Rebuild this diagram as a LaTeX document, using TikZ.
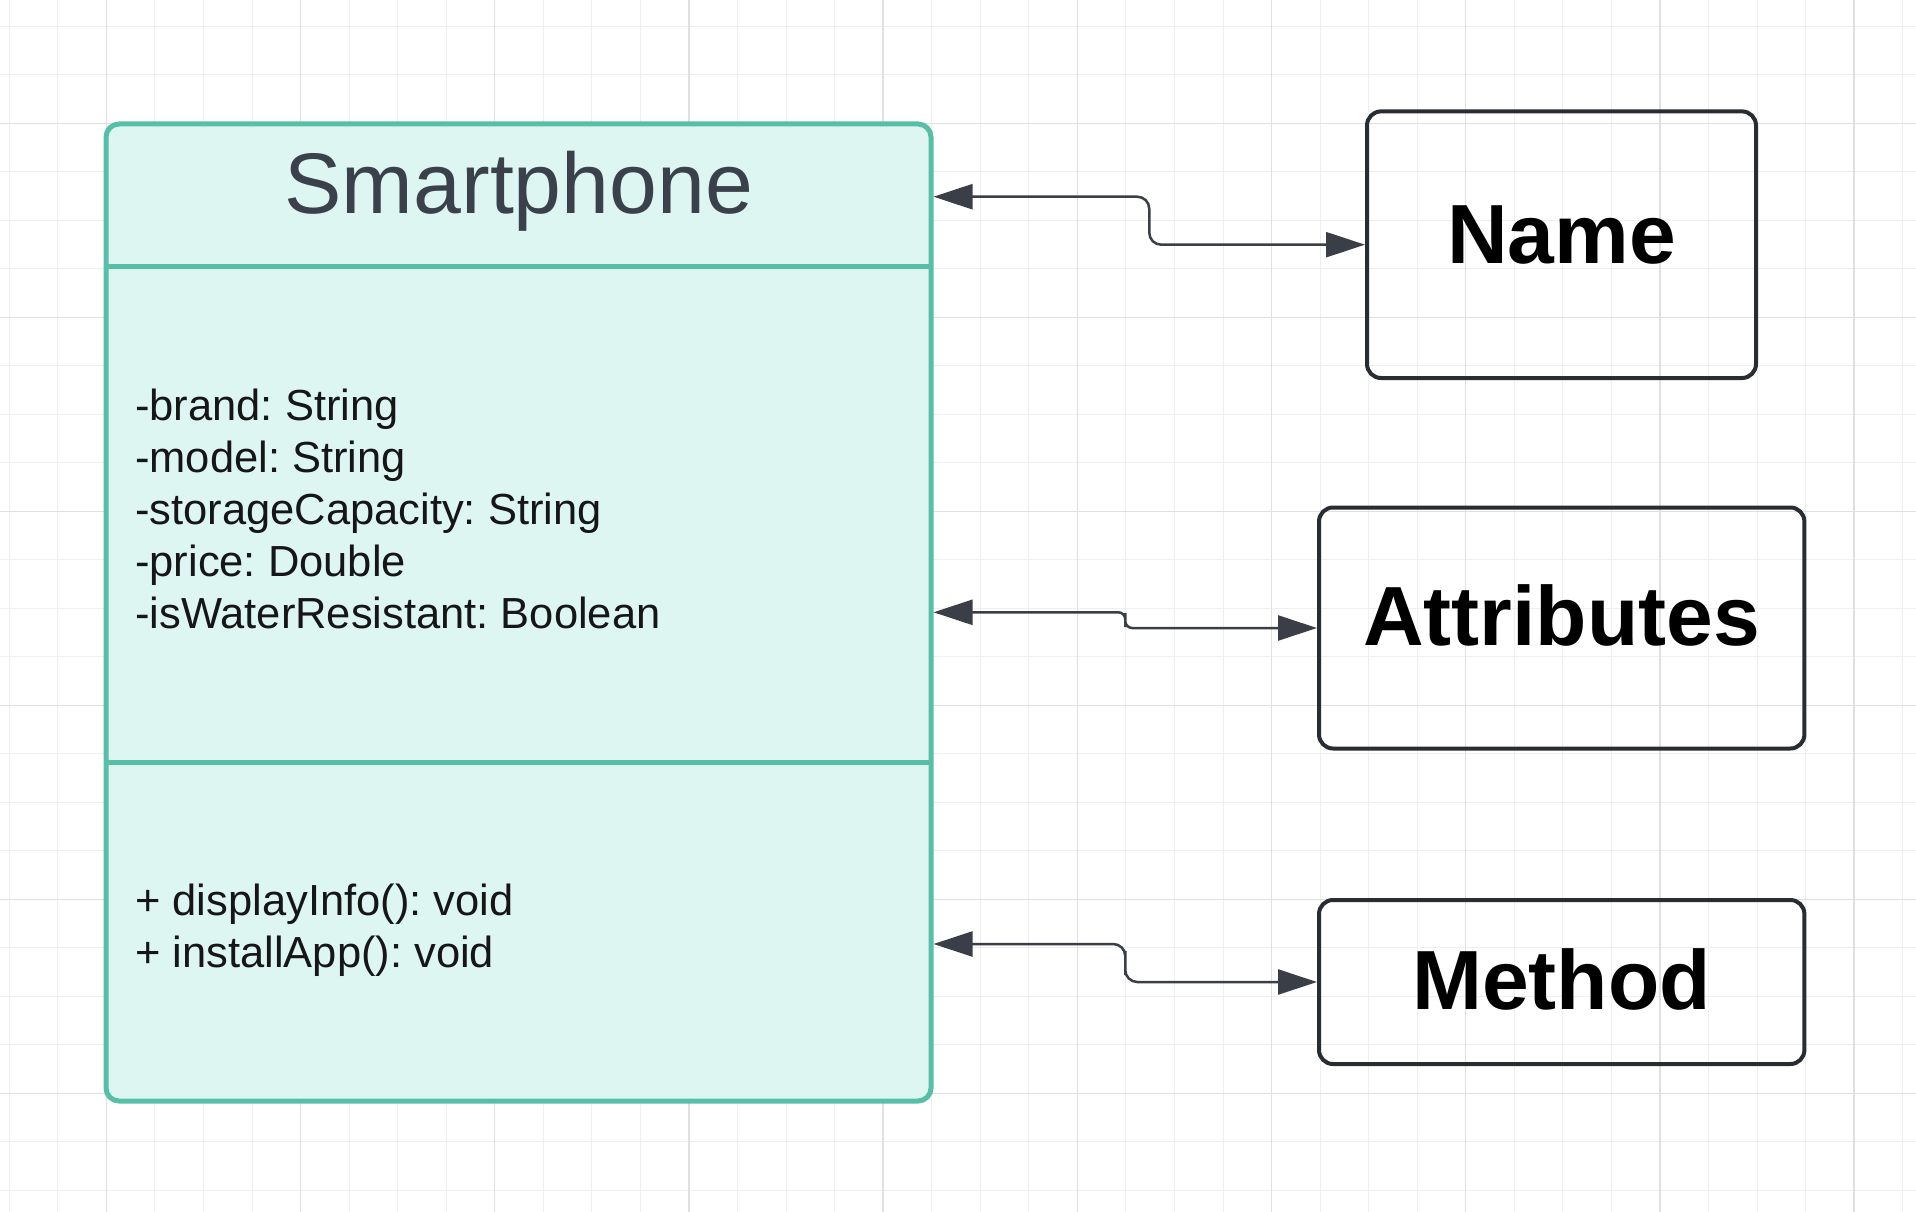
\documentclass[tikz,border=0pt]{standalone}
\usepackage{fontspec}
\setmainfont{Liberation Sans}
\frenchspacing
\usetikzlibrary{arrows.meta,calc}
\definecolor{gridminor}{HTML}{EFEFEF}
\definecolor{gridmajor}{HTML}{E0E0E0}
\definecolor{tealline}{HTML}{57BFA8}
\definecolor{mint}{HTML}{DDF6F2}
\definecolor{titlecol}{HTML}{3A414A}
\definecolor{boxcol}{HTML}{282C33}
\definecolor{arrowcol}{HTML}{3A3F47}
\definecolor{bodytext}{HTML}{161616}
\tikzset{
  gminor/.style={draw=gridminor, line width=1pt},
  gmajor/.style={draw=gridmajor, line width=1.3pt},
  classbox/.style={draw=tealline, fill=mint, line width=5pt, rounded corners=13pt,
    inner sep=0pt, minimum width=825pt, minimum height=977pt},
  divider/.style={draw=tealline, line width=5pt},
  labelbox/.style={draw=boxcol, line width=4pt, rounded corners=14pt, inner sep=0pt},
  conn/.style={draw=arrowcol, line width=2.5pt,
    {Triangle[length=39pt,width=25pt]}-{Triangle[length=39pt,width=25pt]}},
  bigword/.style={font=\fontsize{84}{100}\selectfont\bfseries, text=black, inner sep=0pt, anchor=base},
  titletxt/.style={font=\fontsize{86}{100}\selectfont, text=titlecol, inner sep=0pt, anchor=base},
  bodytxt/.style={font=\fontsize{43.5}{52}\selectfont\frenchspacing, text=bodytext, inner sep=0pt, anchor=base west}
}
\begin{document}
\begin{tikzpicture}[x=1pt,y=-1pt]
\useasboundingbox (0,0) rectangle (1916,1212);
\fill[white] (0,0) rectangle (1916,1212);
% grid
\begin{scope}
\clip (0,0) rectangle (1916,1212);
\foreach \k in {0,...,39} {
  \pgfmathsetmacro\xx{9.3+48.55*\k}
  \draw[gminor] (\xx,0) -- (\xx,1212);
}
\foreach \k in {0,...,24} {
  \pgfmathsetmacro\yy{26.3+48.5*\k}
  \draw[gminor] (0,\yy) -- (1916,\yy);
}
\foreach \k in {0,...,9} {
  \pgfmathsetmacro\xx{106.3+194.2*\k}
  \draw[gmajor] (\xx,0) -- (\xx,1212);
}
\foreach \k in {0,...,5} {
  \pgfmathsetmacro\yy{123.3+194*\k}
  \draw[gmajor] (0,\yy) -- (1916,\yy);
}
\end{scope}

% class box
\node[classbox] (class) at (518.5,612.5) {};
\draw[divider] (106,266.7) -- (931,266.7);
\draw[divider] (106,762.7) -- (931,762.7);
\node[titletxt] (title) at (518.8,213.3) {Smartphone};
\node[bodytxt] (attrs) at (135,420) {\begin{tabular}[t]{@{}l@{}}-brand: String\\-model: String\\-storageCapacity: String\\-price: Double\\-isWaterResistant: Boolean\end{tabular}};
\node[bodytxt] (meths) at (135,915) {\begin{tabular}[t]{@{}l@{}}+ displayInfo(): void\\+ installApp(): void\end{tabular}};

% label boxes
\node[labelbox, minimum width=389pt, minimum height=266.6pt] (name) at (1561.5,244.7) {};
\node[bigword] (namet) at (1561.5,263) {Name};
\node[labelbox, minimum width=485.4pt, minimum height=241pt] (attrib) at (1561.7,628) {};
\node[bigword] (attribt) at (1561.5,645.8) {Attributes};
\node[labelbox, minimum width=485.4pt, minimum height=164pt] (method) at (1561.7,982) {};
\node[bigword] (methodt) at (1561.5,1009) {Method};

% connectors
\coordinate (s1) at (class.east |- 0,196.7);
\coordinate (s2) at (class.east |- 0,612.3);
\coordinate (s3) at (class.east |- 0,944);
\draw[conn, rounded corners=12pt] (s1) -| ($(s1)!.5!(name.west)$) |- (name.west);
\draw[conn, rounded corners=7pt] (s2) -| ($(s2)!.5!(attrib.west)$) |- (attrib.west);
\draw[conn, rounded corners=12pt] (s3) -| ($(s3)!.5!(method.west)$) |- (method.west);
\end{tikzpicture}
\end{document}
